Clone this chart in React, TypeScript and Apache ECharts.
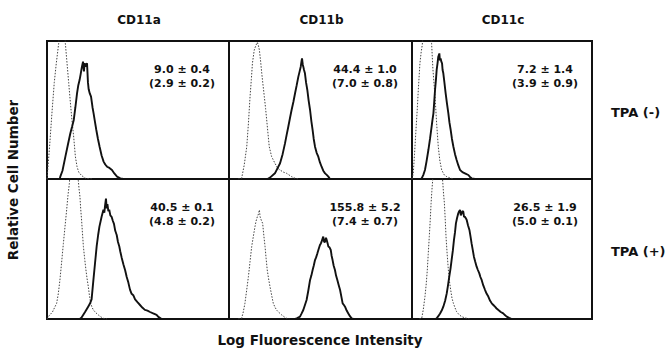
import React, { useEffect, useRef } from "react";
import * as echarts from "echarts";

const markers = ["CD11a", "CD11b", "CD11c"];
const conditions = ["TPA (-)", "TPA (+)"];
const meanLine = [
  ["9.0 ± 0.4", "44.4 ± 1.0", "7.2 ± 1.4"],
  ["40.5 ± 0.1", "155.8 ± 5.2", "26.5 ± 1.9"],
];
const controlLine = [
  ["(2.9 ± 0.2)", "(7.0 ± 0.8)", "(3.9 ± 0.9)"],
  ["(4.8 ± 0.2)", "(7.4 ± 0.7)", "(5.0 ± 0.1)"],
];

// [relative log fluorescence (0-100), relative cell number (0-100)]
const cd11aNegCtrl = [[0,0],[0.4,6.5],[1.5,25],[2.7,47.6],[4,70],[5.1,83.8],[6.4,98],[7.5,118],[8.5,125],[9.3,115],[10.1,98],[11,84],[11.9,70],[12.8,56],[13.7,42.8],[14.7,30],[15.6,16.2],[16.5,9],[17.4,5],[19,2.5],[21.1,0.5],[25,0]];
const cd11aNegStain = [[7,0],[7.3,1.7],[8.5,6],[10.1,16.2],[11.5,25],[12.8,33],[13.8,38],[14.7,42.8],[15.6,52],[16.5,62],[17.2,68],[17.9,71.7],[18.5,76],[19.2,81.4],[19.8,85],[20.3,78],[20.7,84],[21.1,81.4],[21.6,83],[22,83.8],[22.5,70],[22.9,65],[23.5,62],[24.2,59.7],[25,52],[25.6,47.6],[26.4,41],[27.1,35.5],[28,29],[28.9,23.4],[30,17],[31.1,12.6],[32,10.5],[33,8.9],[34.3,8],[35.7,6.5],[37,4],[38.5,1.7],[40.3,0.5],[42,0]];
const cd11bNegCtrl = [[5,0],[6.9,0.5],[8.3,10],[9.7,23.4],[10.6,40],[11.5,59.7],[12.2,72],[12.8,83.8],[13.8,93.5],[14.8,97.1],[15.5,99],[16,97],[16.6,93.5],[17.3,85],[17.9,76.6],[18.6,68],[19.3,59.7],[20,51],[20.6,42.8],[21.3,33],[22,23.4],[23.3,16.2],[25.1,11.4],[26.5,8],[27.9,6.5],[29.7,5],[31.5,4.1],[34.2,1.7],[36.1,0.5],[38,0]];
const cd11bNegStain = [[21,0],[22.4,1],[25.1,4.1],[27.9,11.4],[29.3,18],[30.6,25.8],[31.5,32],[32.4,37.9],[33.3,44],[34.2,50],[35.2,56],[36.1,62.1],[37,68],[37.9,74.2],[38.6,78],[39.2,81.4],[39.6,85],[39.9,87.4],[40.3,83],[40.6,81.4],[41,79],[41.5,76.6],[42.1,70],[42.8,64.5],[43.5,57],[44.3,50],[45,42],[45.7,35.5],[46.3,29],[47,23.4],[47.9,19],[48.8,16.2],[49.7,12],[50.6,8.9],[51.5,6],[52.5,4.1],[53.4,3],[54.3,1.7],[55.2,0],[57,0]];
const cd11cNegCtrl = [[0,0],[0.7,4.1],[1.4,18],[2.2,35.5],[2.9,50],[3.5,64.5],[4.4,83.8],[5.1,92],[5.7,97.1],[6.9,115],[8.1,125],[9.5,112],[10.9,98],[11.6,80],[12.3,68],[12.8,59.7],[13.7,40],[14.6,23.4],[15.5,13],[16.5,6.5],[17.9,3],[19.3,1.7],[21,0.8],[23,0]];
const cd11cNegStain = [[5,0],[5.4,0.5],[6.3,3],[7.2,6.5],[8.1,13],[9.1,21],[10,29],[10.9,37.9],[11.4,43],[11.9,47.6],[12.3,55],[12.8,64.5],[13.3,72],[13.7,79],[14.2,84],[14.6,88.6],[15.2,91],[15.5,86],[15.9,87.4],[16.3,85],[16.7,83.8],[17,79],[17.4,76.6],[18,70],[18.7,62.1],[19.4,55],[20.2,47.6],[20.8,41],[21.5,35.5],[22.2,29],[23,23.4],[23.9,18],[24.8,13.8],[25.7,10],[26.7,6.5],[28,5],[29.4,4.1],[30.3,3.5],[31.3,2.9],[32.2,1.5],[33.1,0.5],[35,0]];
const cd11aPosCtrl = [[0,0],[0.7,1.7],[3,5],[5.3,11.2],[6.2,18],[7.1,27.9],[8,40],[9,54],[9.9,66],[10.8,77.9],[11.5,88],[12.3,96.9],[13.4,120],[14.5,135],[15.8,120],[17.2,99],[17.6,93],[18.1,87.4],[18.5,79],[19,70.7],[19.5,61],[20,51.7],[20.7,43],[21.4,35],[22,29],[22.7,23.1],[23.3,17],[24,11.2],[24.7,8.5],[25.5,6.4],[26.8,4.5],[28.2,2.9],[29.6,1.5],[31,0.5],[33,0]];
const cd11aPosStain = [[18,0],[19,1],[20.9,5],[22.7,9],[23.6,11],[24.5,14],[25.5,28],[26.4,40],[27.3,52],[28.1,60],[28.8,66],[30,73],[31,78],[31.5,76],[31.9,81],[32.4,86],[32.8,79],[33.2,82],[33.7,77],[34.2,78],[34.8,74],[35.5,73],[36.2,70],[36.8,68],[37.5,63],[38.3,60],[39,55],[39.7,52],[40.3,48],[41,44],[42,39],[42.9,35],[43.8,30],[44.7,26],[45.6,21],[46.5,18],[47.4,17],[48.4,14],[49.7,12],[51.1,10],[52.5,8],[53.8,6.5],[55.2,6],[56.6,5],[58,4.2],[59.3,3.5],[60.2,3],[61.2,1.5],[63,0]];
const cd11bPosCtrl = [[5,0],[6.9,0.5],[7.8,5],[8.7,11.2],[9.6,20],[10.6,30.2],[11.5,41],[12.4,51.7],[13.3,59],[14.2,66],[14.8,70],[15.5,73.1],[16.1,75],[16.6,77.9],[17,73],[17.3,73.1],[17.8,70],[18.4,68.3],[19,60],[19.7,51.7],[20.3,43],[20.9,35],[21.6,29],[22.4,23.1],[23.3,17],[24.2,11.2],[25.1,8.5],[26,6.4],[27.4,4.5],[28.8,2.9],[30.2,1.5],[31.5,0.5],[33,0]];
const cd11bPosStain = [[36,0],[37,0.5],[38.8,1.7],[39.7,4],[40.6,6.4],[41.5,10],[42.4,13.6],[43.3,20],[44.3,27.9],[45,31],[45.7,35],[46.3,38],[47,42.1],[47.6,44],[48.3,46.9],[49,50],[49.7,52.9],[50.2,54],[50.6,55.2],[51,57],[51.5,58.8],[52,55],[52.5,55.2],[53,58],[53.4,56.4],[53.9,54],[54.3,51.7],[55,51],[55.6,49.3],[56.1,45],[56.6,42.1],[57.2,38],[57.9,35],[58.5,31],[59.2,27.9],[60,24],[60.7,20.7],[61.4,16],[62.1,11.2],[62.8,10],[63.4,8.8],[64.3,6],[65.2,4],[66.1,2],[67,0.5],[68,0]];
const cd11cPosCtrl = [[4,0],[5.4,0.5],[6.3,7],[7.2,16],[7.9,25],[8.5,35],[9,46],[9.6,58.8],[10.1,70],[10.6,82.6],[11,91],[11.5,99.3],[12.8,120],[14.3,130],[15.7,118],[17,99.3],[17.5,90],[18,82.6],[18.5,70],[18.9,58.8],[19.5,47],[20.2,35],[20.8,27],[21.5,20.7],[22.2,15],[23,11.2],[23.9,8],[24.8,5.2],[26.2,3],[27.6,1.7],[29,1],[30.4,0.5],[32,0]];
const cd11cPosStain = [[13,0],[13.7,0.5],[14.6,2],[15.6,4],[16.5,6],[17.4,8.8],[18.4,13],[19.3,18.3],[20,24],[20.7,30.2],[21.4,36],[22,42.1],[22.7,49],[23.3,56.4],[23.9,62],[24.4,68.3],[25,72],[25.7,75.5],[26.2,77],[26.7,77.9],[27.1,74],[27.6,75.5],[28,77],[28.5,76.7],[28.9,73],[29.4,73.1],[29.9,72],[30.4,70.7],[31.1,67],[31.9,63.6],[32.5,59],[33.1,54],[33.8,49],[34.4,44.5],[35.1,41],[35.9,37.4],[36.6,35],[37.4,32.6],[38,30],[38.7,27.9],[39.6,24],[40.6,20.7],[41.5,18],[42.4,16],[43.4,13],[44.3,11.2],[45.2,10],[46.1,8.8],[47,7.5],[48,6.4],[49.3,5],[50.7,4],[51.6,2.8],[52.6,1.7],[54,0.8],[55.4,0]];

const controls = [
  [cd11aNegCtrl, cd11bNegCtrl, cd11cNegCtrl],
  [cd11aPosCtrl, cd11bPosCtrl, cd11cPosCtrl],
];
const stains = [
  [cd11aNegStain, cd11bNegStain, cd11cNegStain],
  [cd11aPosStain, cd11bPosStain, cd11cPosStain],
];

const colLefts = [47, 229, 412];
const colWidths = [182, 183, 180];
const rowTops = [41, 179];
const rowHeights = [138, 140];

const FONT = "'DejaVu Sans', 'Liberation Sans', sans-serif";

function txt(text: string, x: number, y: number, size: number, align: string, extra: any = {}) {
  return {
    type: "text",
    x,
    y,
    ...extra,
    style: {
      text,
      font: `bold ${size}px ${FONT}`,
      fill: "#111",
      align,
      verticalAlign: "middle",
      textAlign: align,
      textVerticalAlign: "middle",
    },
  };
}

export default function App() {
  const ref = useRef<HTMLDivElement>(null);
  useEffect(() => {
    if (!ref.current) return;
    const chart = echarts.init(ref.current, null, { renderer: "svg" });
    const grids: any[] = [];
    const xAxes: any[] = [];
    const yAxes: any[] = [];
    const series: any[] = [];
    const graphics: any[] = [];
    let idx = 0;
    for (let r = 0; r < 2; r++) {
      for (let c = 0; c < 3; c++) {
        grids.push({
          left: colLefts[c],
          top: rowTops[r],
          width: colWidths[c],
          height: rowHeights[r],
          show: true,
          borderColor: "#111",
          borderWidth: 2,
          backgroundColor: "transparent",
        });
        xAxes.push({ type: "value", gridIndex: idx, min: 0, max: 100, show: false });
        yAxes.push({ type: "value", gridIndex: idx, min: 0, max: 100, show: false });
        series.push({
          type: "line",
          xAxisIndex: idx,
          yAxisIndex: idx,
          data: controls[r][c],
          symbol: "none",
          clip: true,
          lineStyle: { color: "#444", width: 1, type: [1.5, 1.5] },
        });
        series.push({
          type: "line",
          xAxisIndex: idx,
          yAxisIndex: idx,
          data: stains[r][c],
          symbol: "none",
          clip: true,
          lineStyle: { color: "#111", width: 1.9 },
        });
        const cx = colLefts[c] + colWidths[c] - 47;
        const y0 = rowTops[r] + 28;
        graphics.push(txt(meanLine[r][c], cx, y0, 11, "center"));
        graphics.push(txt(controlLine[r][c], cx, y0 + 14, 11, "center"));
        idx++;
      }
    }
    markers.forEach((m, c) => {
      graphics.push(txt(m, colLefts[c] + colWidths[c] / 2 + 1, 20, 12, "center"));
    });
    conditions.forEach((t, r) => {
      graphics.push(txt(t, 611, rowTops[r] + rowHeights[r] / 2 + 2, 13, "left"));
    });
    graphics.push(
      txt("Relative Cell Number", 13, 180, 13.5, "center", { rotation: Math.PI / 2 })
    );
    graphics.push(txt("Log Fluorescence Intensity", 320, 340, 13.5, "center"));
    chart.setOption({
      animation: false,
      backgroundColor: "#fff",
      grid: grids,
      xAxis: xAxes,
      yAxis: yAxes,
      series,
      graphic: graphics,
    });
    return () => chart.dispose();
  }, []);
  return (
    <div
      ref={ref}
      style={{ position: "fixed", left: 0, top: 0, width: 666, height: 350, background: "#fff" }}
    />
  );
}
